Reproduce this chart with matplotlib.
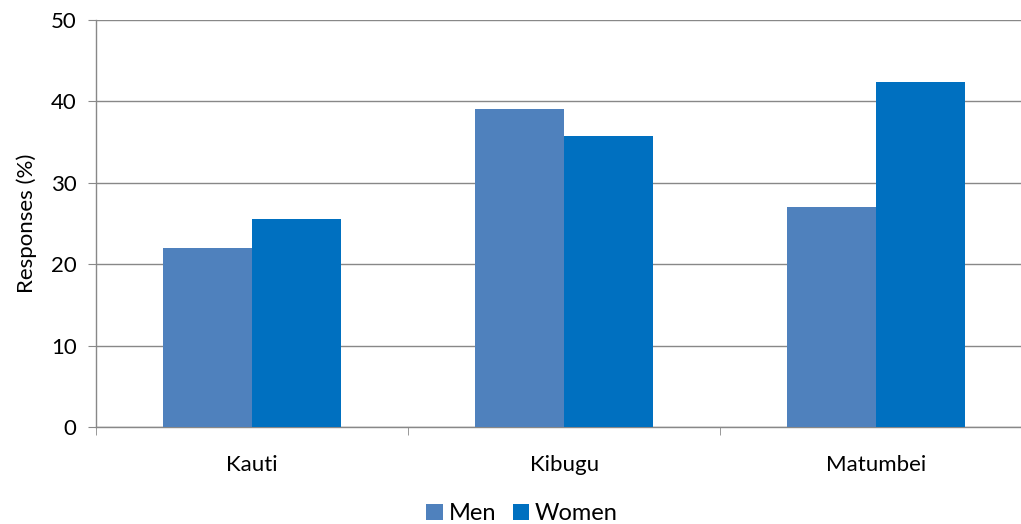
import numpy as np
import matplotlib
matplotlib.use('Agg')
import matplotlib.pyplot as plt

categories = ['Kauti', 'Kibugu', 'Matumbei']
men = [22.0, 39.0, 27.0]
women = [25.6, 35.7, 42.4]

plt.rcParams['font.family'] = ['Lato', 'DejaVu Sans']

fig = plt.figure(figsize=(10.21, 5.24), dpi=100)
ax = fig.add_axes([0.094, 0.185, 0.917, 0.777])

x = np.arange(len(categories))
w = 0.285
ax.bar(x - w / 2, men, w, color='#4F81BD', label='Men', zorder=3)
ax.bar(x + w / 2, women, w, color='#0070C0', label='Women', zorder=3)

ax.set_xlim(-0.5, 2.5)
ax.set_ylim(0, 50)
ax.set_yticks(range(0, 51, 10))
ax.yaxis.grid(True, color='#888888', linewidth=1, zorder=0)

ax.set_xticks(x)
ax.set_xticklabels(categories, fontsize=16)
ax.set_xticks([-0.5, 0.5, 1.5, 2.5], minor=True)
ax.tick_params(axis='x', which='major', length=0, pad=20)
ax.tick_params(axis='x', which='minor', length=6, color='#888888', direction='out')
ax.tick_params(axis='y', length=6, color='#888888', labelsize=16, pad=8)

for s in ['top', 'right']:
    ax.spines[s].set_visible(False)
for s in ['left', 'bottom']:
    ax.spines[s].set_color('#888888')
    ax.spines[s].set_linewidth(1)

ax.set_ylabel('Responses (%)', fontsize=16, labelpad=10)

ax.legend(loc='upper center', bbox_to_anchor=(0.455, -0.135), ncol=2, frameon=False,
          fontsize=17, handlelength=0.7, handleheight=0.7, handletextpad=0.25,
          columnspacing=0.7)

fig.savefig('out.png', dpi=100)
